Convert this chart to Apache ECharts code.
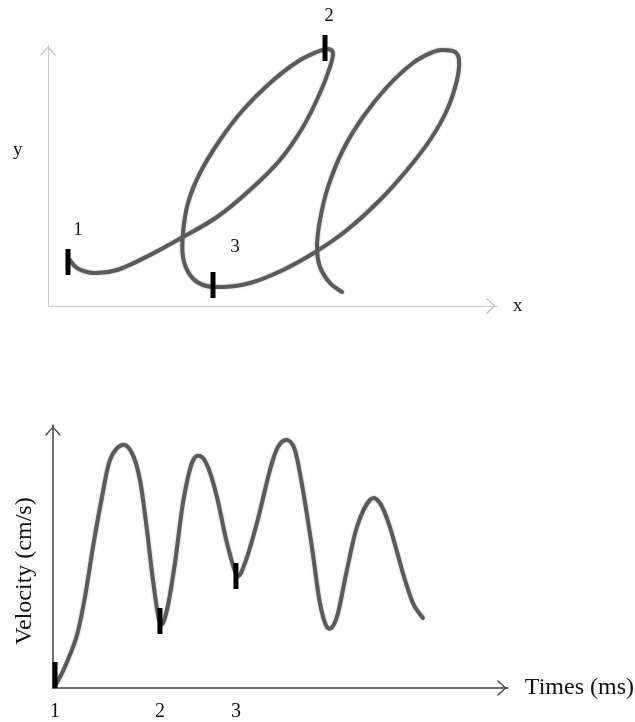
<!DOCTYPE html>
<html>
<head>
<meta charset="utf-8">
<script src="https://cdn.jsdelivr.net/npm/echarts@6/dist/echarts.min.js"></script>
<style>
  html, body { margin: 0; padding: 0; background: #fff; }
  #main { width: 635px; height: 722px; }
</style>
</head>
<body>
<div id="main"></div>
<script>
// 上图：笔迹轨迹 (x, y)
var strokeX = [22, 29, 45, 69, 102, 135, 169, 202, 232, 255, 272, 282, 285, 280, 269, 249, 222, 195, 172, 152, 140, 135, 135, 142, 155, 175, 202, 235, 269, 299, 332, 359, 382, 399, 409, 411, 407, 395, 385, 365, 339, 315, 295, 280, 272, 269, 272, 282, 294];
var strokeY = [46, 38, 33, 36, 51, 69, 89, 116, 146, 179, 213, 239, 253, 257, 254, 244, 223, 196, 166, 133, 103, 73, 49, 31, 21, 19, 23, 36, 55, 76, 106, 136, 166, 196, 226, 246, 254, 256, 254, 243, 219, 189, 156, 119, 86, 59, 39, 23, 14];
var strokeMarkX = [20, 277, 165];
var strokeMarkY = [44, 258, 21];
var markNames = ['1', '2', '3'];

// 下图：速度曲线
var times = [2, 8, 14, 24, 32, 40, 49, 57, 69, 79, 87, 94, 100, 107, 114, 122, 130, 139, 147, 155, 164, 174, 184, 192, 204, 217, 225, 234, 242, 250, 259, 267, 275, 284, 294, 304, 317, 327, 337, 350, 360, 370];
var velocity = [2, 13, 26, 53, 91, 141, 191, 228, 243, 235, 208, 158, 108, 65, 78, 125, 185, 225, 232, 221, 191, 145, 113, 125, 165, 218, 241, 248, 238, 198, 141, 85, 60, 71, 118, 161, 188, 185, 161, 115, 85, 70];
var velMarkT = [2, 107, 183];
var velMarkV = [13, 67, 112];

var serif = '"Liberation Serif", "DejaVu Serif", serif';
var textColor = '#111';
var curveColor = '#5b5b5b';
// 空心箭头
var chevron = 'path://M0,11 L10,0 L20,11 L18.4,12 L10,2.4 L1.6,12 Z';

function zip(a, b) {
    return a.map(function (v, i) { return [v, b[i]]; });
}

// Catmull-Rom 平滑曲线，经坐标轴换算后绘制
function smoothCurve(points) {
    return function (params, api) {
        if (params.dataIndex !== 0) return null;
        var p = points.map(function (d) { return api.coord(d); });
        var d = 'M' + p[0][0] + ',' + p[0][1];
        for (var i = 0; i < p.length - 1; i++) {
            var p0 = p[i - 1] || p[i], p1 = p[i], p2 = p[i + 1], p3 = p[i + 2] || p[i + 1];
            var c1x = p1[0] + (p2[0] - p0[0]) / 6, c1y = p1[1] + (p2[1] - p0[1]) / 6;
            var c2x = p2[0] - (p3[0] - p1[0]) / 6, c2y = p2[1] - (p3[1] - p1[1]) / 6;
            d += ' C' + c1x + ',' + c1y + ' ' + c2x + ',' + c2y + ' ' + p2[0] + ',' + p2[1];
        }
        return {
            type: 'path',
            shape: { pathData: d },
            style: {
                fill: 'none', stroke: curveColor, lineWidth: 4,
                lineCap: 'round', lineJoin: 'round',
                shadowColor: 'rgba(90,90,90,0.5)', shadowBlur: 2
            }
        };
    };
}

var myChart = echarts.init(document.getElementById('main'));

function axisBase(color, type, width) {
    return {
        type: 'value',
        axisLine: {
            show: true,
            symbol: ['none', chevron],
            symbolSize: [16, 12],
            symbolOffset: [0, -6],
            lineStyle: { color: color, type: type, width: width }
        },
        axisTick: { show: false },
        axisLabel: { show: false },
        splitLine: { show: false }
    };
}

var xTop = axisBase('#c4c4c4', 'dotted', 1);
xTop.gridIndex = 0; xTop.min = 0; xTop.max = 449;
xTop.name = 'x'; xTop.nameLocation = 'end'; xTop.nameGap = 16;
xTop.nameTextStyle = { fontFamily: serif, fontSize: 19, color: textColor };

var yTop = axisBase('#c4c4c4', 'dotted', 1);
yTop.gridIndex = 0; yTop.min = 0; yTop.max = 261;

var xBot = axisBase('#444', 'solid', 1.5);
xBot.gridIndex = 1; xBot.min = 0; xBot.max = 455;
xBot.name = 'Times (ms)'; xBot.nameLocation = 'end'; xBot.nameGap = 17;
xBot.nameTextStyle = { fontFamily: serif, fontSize: 24, color: textColor };
xBot.axisLabel = {
    show: true,
    customValues: velMarkT,
    formatter: function (v) { return markNames[velMarkT.indexOf(v)]; },
    margin: 14,
    fontFamily: serif, fontSize: 20, color: textColor
};

var yBot = axisBase('#444', 'solid', 1.5);
yBot.gridIndex = 1; yBot.min = 0; yBot.max = 263;

var topLabelOffsets = [[10, -4], [4, -4], [22, -10]];
var strokePoints = zip(strokeX, strokeY);
var velPoints = zip(times, velocity);

var option = {
    backgroundColor: '#fff',
    animation: false,
    grid: [
        { left: 48, top: 45, width: 449, height: 261 },
        { left: 53, top: 425, width: 455, height: 263 }
    ],
    xAxis: [xTop, xBot],
    yAxis: [yTop, yBot],
    graphic: [
        {
            type: 'text', left: 13, top: 141,
            style: { text: 'y', font: '19px ' + serif, fill: textColor }
        },
        {
            type: 'text', x: 25, y: 571, rotation: Math.PI / 2,
            style: {
                text: 'Velocity (cm/s)', font: '24px ' + serif, fill: textColor,
                align: 'center', verticalAlign: 'middle'
            }
        }
    ],
    series: [
        {
            type: 'custom', xAxisIndex: 0, yAxisIndex: 0,
            data: strokePoints, clip: false,
            renderItem: smoothCurve(strokePoints)
        },
        {
            type: 'scatter', xAxisIndex: 0, yAxisIndex: 0,
            symbol: 'rect', symbolSize: [5, 26], clip: false,
            itemStyle: { color: '#000', opacity: 1 },
            data: strokeMarkX.map(function (x, i) {
                return {
                    value: [x, strokeMarkY[i]],
                    label: { offset: topLabelOffsets[i] }
                };
            }),
            label: {
                show: true, position: 'top',
                formatter: function (p) { return markNames[p.dataIndex]; },
                fontFamily: serif, fontSize: 19, color: textColor
            },
            z: 5
        },
        {
            type: 'custom', xAxisIndex: 1, yAxisIndex: 1,
            data: velPoints, clip: false,
            renderItem: smoothCurve(velPoints)
        },
        {
            type: 'scatter', xAxisIndex: 1, yAxisIndex: 1,
            symbol: 'rect', symbolSize: [5, 26], clip: false,
            itemStyle: { color: '#000', opacity: 1 },
            data: zip(velMarkT, velMarkV),
            z: 5
        }
    ]
};

myChart.setOption(option);
</script>
</body>
</html>
